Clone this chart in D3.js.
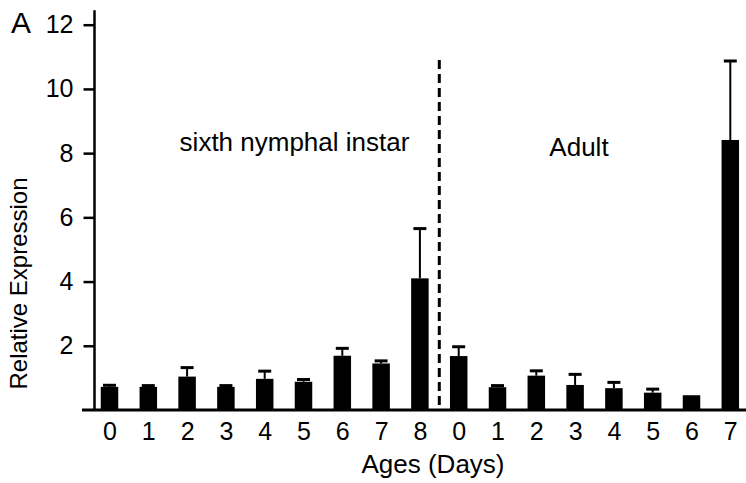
<!DOCTYPE html>
<html>
<head>
<meta charset="utf-8">
<script src="https://cdn.jsdelivr.net/npm/d3@7"></script>
<style>
  body { margin: 0; background: #fff; }
  svg { display: block; font-family: "Liberation Sans", Arial, sans-serif; }
</style>
</head>
<body>
<svg id="chart" width="746" height="483"></svg>
<script>
// values
var nymphDays = ['0', '1', '2', '3', '4', '5', '6', '7', '8'];
var nymphMean = [0.72, 0.72, 1.04, 0.72, 0.97, 0.88, 1.69, 1.45, 4.10];
var nymphErr = [0.05, 0.04, 0.28, 0.04, 0.24, 0.07, 0.23, 0.08, 1.55];

var adultDays = ['0', '1', '2', '3', '4', '5', '6', '7'];
var adultMean = [1.68, 0.71, 1.07, 0.78, 0.68, 0.54, 0.46, 8.41];
var adultErr = [0.29, 0.05, 0.15, 0.33, 0.18, 0.11, 0.0, 2.46];

var yTicks = [2, 4, 6, 8, 10, 12];

var data = [];
nymphDays.forEach(function (d, i) {
    data.push({ idx: i, day: d, mean: nymphMean[i], err: nymphErr[i] });
});
adultDays.forEach(function (d, i) {
    data.push({ idx: nymphDays.length + i, day: d, mean: adultMean[i], err: adultErr[i] });
});

var svg = d3.select('#chart');
var barW = 17.5;

var x = d3.scalePoint()
    .domain(data.map(function (d) { return d.idx; }))
    .range([109.5, 730.3]);

var y = d3.scaleLinear()
    .domain([0, 12])
    .range([410, 24.7]);

// bars
svg.selectAll('rect.bar')
    .data(data)
    .enter().append('rect')
    .attr('class', 'bar')
    .attr('fill', '#000')
    .attr('x', function (d) { return x(d.idx) - barW / 2; })
    .attr('y', function (d) { return y(d.mean); })
    .attr('width', barW)
    .attr('height', function (d) { return y(0) - y(d.mean); });

// upper error bars
var eb = svg.selectAll('g.err')
    .data(data.filter(function (d) { return d.err > 0; }))
    .enter().append('g')
    .attr('class', 'err');
eb.append('line')
    .attr('x1', function (d) { return x(d.idx); })
    .attr('x2', function (d) { return x(d.idx); })
    .attr('y1', function (d) { return y(d.mean); })
    .attr('y2', function (d) { return y(d.mean + d.err); })
    .attr('stroke', '#000')
    .attr('stroke-width', 2);
eb.append('line')
    .attr('x1', function (d) { return x(d.idx) - 6.5; })
    .attr('x2', function (d) { return x(d.idx) + 6.5; })
    .attr('y1', function (d) { return y(d.mean + d.err); })
    .attr('y2', function (d) { return y(d.mean + d.err); })
    .attr('stroke', '#000')
    .attr('stroke-width', 3);

// y axis
var yAxis = svg.append('g')
    .attr('transform', 'translate(94.5,0)')
    .call(d3.axisLeft(y).tickValues(yTicks).tickSize(11).tickPadding(10));
yAxis.select('.domain').remove();
yAxis.selectAll('.tick line').attr('stroke', '#000').attr('stroke-width', 2.5);
yAxis.selectAll('.tick text')
    .attr('fill', '#000')
    .style('font-size', '25px')
    .style('font-family', '"Liberation Sans", Arial, sans-serif');
svg.append('line')
    .attr('x1', 94.5).attr('x2', 94.5)
    .attr('y1', y(0)).attr('y2', y(12.45))
    .attr('stroke', '#000').attr('stroke-width', 2.5);

// x axis
var xAxis = svg.append('g')
    .attr('transform', 'translate(0,' + y(0) + ')')
    .call(d3.axisBottom(x).tickSize(0).tickPadding(12)
        .tickFormat(function (i) { return data[i].day; }));
xAxis.select('.domain').remove();
xAxis.selectAll('.tick text')
    .attr('fill', '#000')
    .style('font-size', '25px')
    .style('font-family', '"Liberation Sans", Arial, sans-serif');
svg.append('line')
    .attr('x1', 82).attr('x2', 746)
    .attr('y1', y(0)).attr('y2', y(0))
    .attr('stroke', '#000').attr('stroke-width', 3);

// stage divider
var divX = (x(nymphDays.length - 1) + x(nymphDays.length)) / 2;
svg.append('line')
    .attr('x1', divX).attr('x2', divX)
    .attr('y1', y(10.9)).attr('y2', y(0))
    .attr('stroke', '#000')
    .attr('stroke-width', 3)
    .attr('stroke-dasharray', '9,5');

// annotations
svg.append('text')
    .attr('x', 294.5)
    .attr('y', 151)
    .attr('text-anchor', 'middle')
    .style('font-size', '26px')
    .text('sixth nymphal instar');
svg.append('text')
    .attr('x', 579)
    .attr('y', 156)
    .attr('text-anchor', 'middle')
    .style('font-size', '26px')
    .text('Adult');

svg.append('text')
    .attr('x', 433)
    .attr('y', 473)
    .attr('text-anchor', 'middle')
    .style('font-size', '26px')
    .text('Ages (Days)');

svg.append('text')
    .attr('transform', 'translate(27,283.5) rotate(-90)')
    .attr('text-anchor', 'middle')
    .style('font-size', '24px')
    .text('Relative Expression');

svg.append('text')
    .attr('x', 11)
    .attr('y', 33)
    .style('font-size', '30px')
    .text('A');
</script>
</body>
</html>
